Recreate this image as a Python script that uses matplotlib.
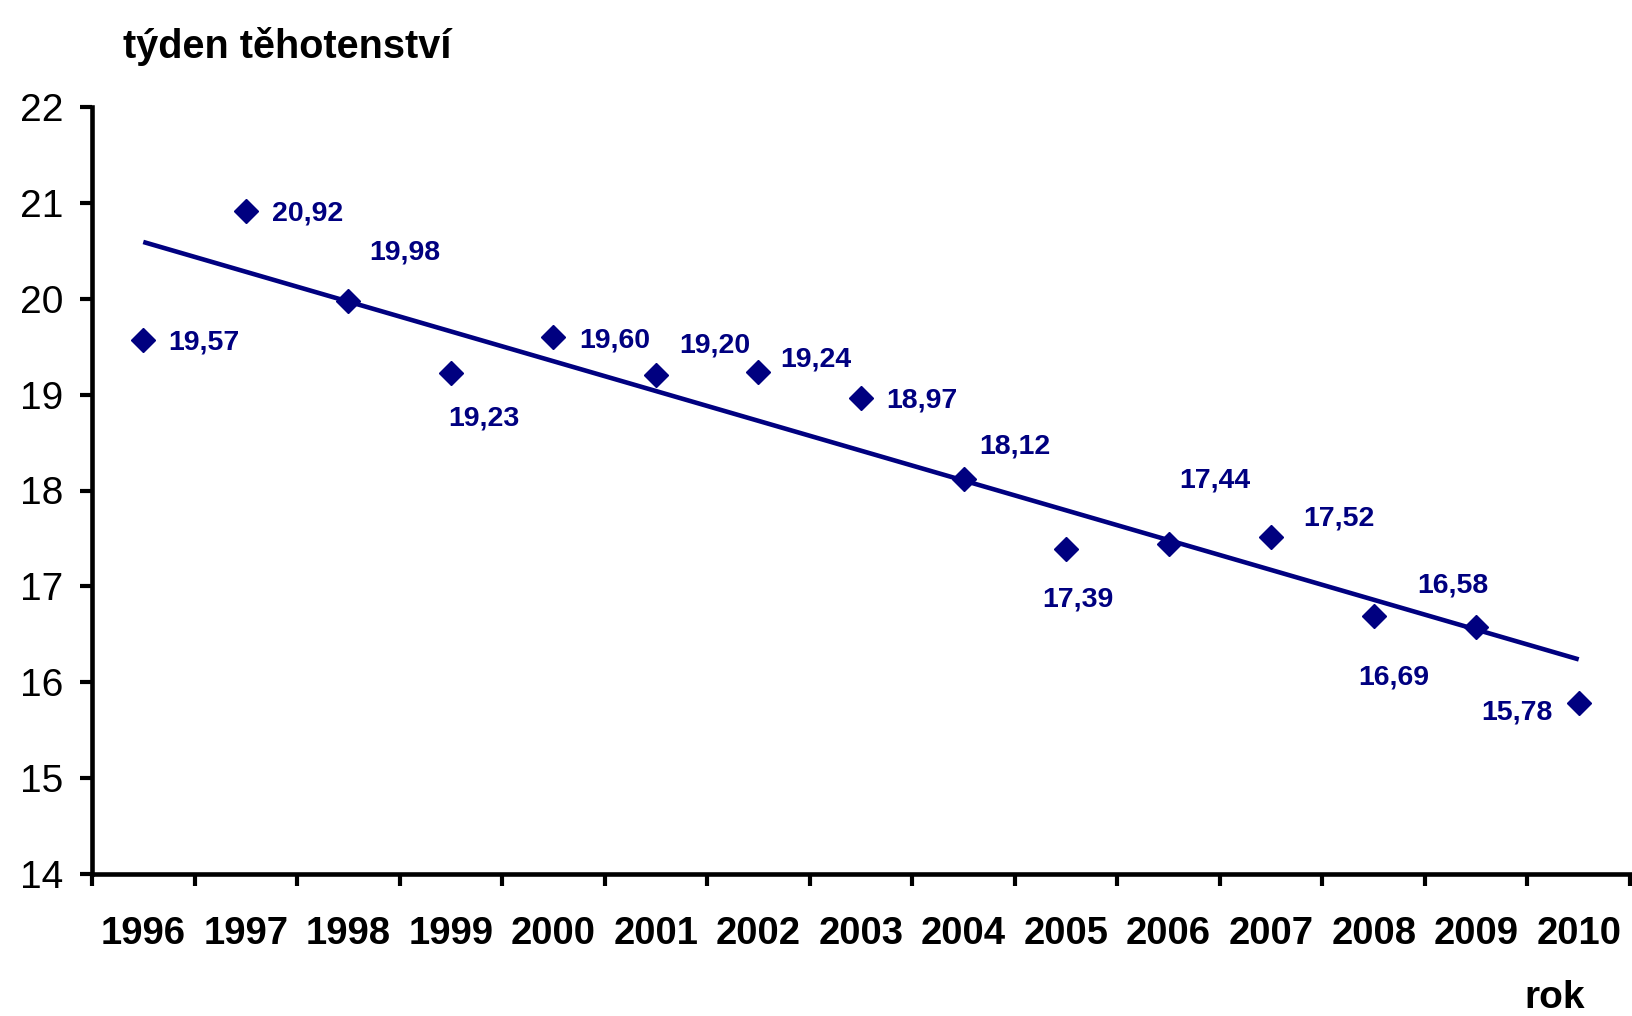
import matplotlib
matplotlib.use("Agg")
import matplotlib.pyplot as plt
import numpy as np

plt.rcParams['font.family'] = ['Liberation Sans', 'DejaVu Sans']

years = ['1996', '1997', '1998', '1999', '2000', '2001', '2002', '2003',
         '2004', '2005', '2006', '2007', '2008', '2009', '2010']
values = [19.57, 20.92, 19.98, 19.23, 19.60, 19.20, 19.24, 18.97,
          18.12, 17.39, 17.44, 17.52, 16.69, 16.58, 15.78]
y_ticks = [14, 15, 16, 17, 18, 19, 20, 21, 22]

# label placement (offset in pixels, horizontal alignment)
label_offsets = [(25, 0, 'left'), (26, 0, 'left'), (21, 51, 'left'),
                 (-3, -43, 'left'), (26, 0, 'left'), (23, 33, 'left'),
                 (22, 15, 'left'), (25, 0, 'left'), (16, 35, 'left'),
                 (12, -48, 'center'), (46, 67, 'center'), (32, 21, 'left'),
                 (20, -58, 'center'), (-23, 44, 'center'), (-26, -6, 'right')]

navy = '#000080'
W, H = 1633, 1016
fig = plt.figure(figsize=(W / 100, H / 100), dpi=100)
ax = fig.add_axes([92 / W, 1 - 874 / H, (1630 - 92) / W, (874 - 107) / H])

x = np.arange(len(years))
ax.plot(x, values, linestyle='none', marker='D', markersize=12.5,
        color=navy, zorder=3, clip_on=False)

slope, intercept = np.polyfit(x, values, 1)
xt = np.array([x[0], x[-1]])
ax.plot(xt, slope * xt + intercept, color=navy, linewidth=3.3, zorder=2,
        solid_capstyle='butt')

for xi, v, (dx, dy, ha) in zip(x, values, label_offsets):
    ax.annotate(f"{v:.2f}".replace('.', ','), (xi, v), xytext=(dx, dy),
                textcoords='offset pixels', ha=ha, va='center_baseline',
                fontsize=20.5, fontweight='bold', color=navy)

ax.set_xlim(-0.5, len(years) - 0.5)
ax.set_ylim(14, 22)
ax.set_yticks(y_ticks)
ax.set_yticklabels([str(t) for t in y_ticks])
ax.set_xticks(x)
ax.set_xticklabels(years)
ax.set_xticks(np.arange(-0.5, len(years)), minor=True)

for s in ['top', 'right']:
    ax.spines[s].set_visible(False)
for s in ['left', 'bottom']:
    ax.spines[s].set_linewidth(3.3)
    ax.spines[s].set_color('black')

ax.tick_params(axis='y', which='major', direction='out', length=8.5, width=3.0,
               labelsize=28, pad=12, colors='black')
ax.tick_params(axis='x', which='major', length=0, pad=30, labelsize=27.5)
ax.tick_params(axis='x', which='minor', direction='out', length=8.5, width=3.0)
for lbl in ax.get_xticklabels():
    lbl.set_fontweight('bold')

fig.text(123 / W, 1 - 47 / H, 'týden těhotenství', fontsize=28.5,
         fontweight='bold', ha='left', va='center')
fig.text(1555 / W, 1 - 1008 / H, 'rok', fontsize=28, fontweight='bold',
         ha='center', va='baseline')

fig.savefig('out.png', dpi=100)
